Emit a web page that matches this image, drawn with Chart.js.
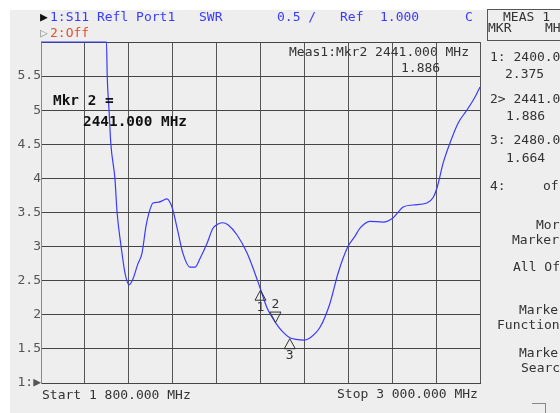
<!DOCTYPE html>
<html>
<head>
<meta charset="utf-8">
<script src="https://cdn.jsdelivr.net/npm/chart.js@4/dist/chart.umd.min.js"></script>
<style>
  html, body { margin:0; padding:0; background:#ffffff; }
  #wrap { position:relative; width:560px; height:413px; overflow:hidden; background:#ffffff; }
  #bg { position:absolute; left:10px; top:10px; width:550px; height:403px; background:#eeeeee; }
  canvas { position:absolute; left:0; top:0; }
  .t { position:absolute; font-family:"DejaVu Sans Mono", monospace; font-size:13px; line-height:14px; white-space:pre; color:#333; }
  .blue { color:#3a3aff; }
  .b { font-weight:bold; font-size:14.4px; color:#111; line-height:15px; }
  #measbox { position:absolute; left:487px; top:9px; width:80px; height:30px; border:1px solid #555; }
  #widget { position:absolute; left:532px; top:403px; width:13px; height:14px; border-top:1px solid #888; border-right:1px solid #888; }
</style>
</head>
<body>
<div id="wrap">
  <div id="bg"></div>
  <canvas id="c" width="560" height="413"></canvas>

  <!-- header -->
  <div class="t" style="left:40px;top:10px;color:#111;">▶</div>
  <div class="t blue" style="left:50px;top:10px;">1:S11 Refl Port1</div>
  <div class="t blue" style="left:199px;top:10px;">SWR</div>
  <div class="t blue" style="left:277px;top:10px;">0.5 /</div>
  <div class="t blue" style="left:340px;top:10px;">Ref</div>
  <div class="t blue" style="left:380px;top:10px;">1.000</div>
  <div class="t blue" style="left:465px;top:10px;">C</div>
  <div class="t" style="left:40px;top:26px;color:#999;">▷</div>
  <div class="t" style="left:50px;top:26px;color:#e0502c;">2:Off</div>

  <div id="measbox"></div>
  <div class="t" style="left:503px;top:10px;">MEAS 1</div>
  <div class="t" style="left:488px;top:21px;">MKR</div>
  <div class="t" style="left:545px;top:21px;">MH</div>

  <!-- in-plot annotations -->
  <div class="t b" style="left:53px;top:93px;">Mkr 2 =</div>
  <div class="t b" style="left:83px;top:114px;">2441.000 MHz</div>
  <div class="t" style="left:289px;top:45px;">Meas1:Mkr2 2441.000 MHz</div>
  <div class="t" style="left:401px;top:61px;">1.886</div>

  <!-- right panel -->
  <div class="t" style="left:490px;top:50px;">1: 2400.0</div>
  <div class="t" style="left:505px;top:67px;">2.375</div>
  <div class="t" style="left:490px;top:92px;">2&gt; 2441.0</div>
  <div class="t" style="left:506px;top:109px;">1.886</div>
  <div class="t" style="left:490px;top:133px;">3: 2480.0</div>
  <div class="t" style="left:506px;top:151px;">1.664</div>
  <div class="t" style="left:490px;top:179px;">4:</div>
  <div class="t" style="left:543px;top:179px;">of</div>
  <div class="t" style="left:536px;top:218px;">Mor</div>
  <div class="t" style="left:512px;top:233px;">Marker</div>
  <div class="t" style="left:513px;top:260px;">All Of</div>
  <div class="t" style="left:519px;top:303px;">Marke</div>
  <div class="t" style="left:497px;top:318px;">Function</div>
  <div class="t" style="left:519px;top:346px;">Marke</div>
  <div class="t" style="left:521px;top:361px;">Searc</div>

  <!-- bottom -->
  <div class="t" style="left:42px;top:388px;">Start 1 800.000 MHz</div>
  <div class="t" style="left:337px;top:387px;">Stop 3 000.000 MHz</div>
  <div id="widget"></div>
</div>

<script>
// ---- data ----
const freqMHz = [1800, 1975, 1979, 1981, 1986, 1991, 2002, 2008, 2019, 2030,
                 2041, 2051, 2065, 2076, 2087, 2095, 2106, 2120, 2131, 2144,
                 2158, 2175, 2188, 2207, 2221, 2235, 2254, 2270, 2284, 2297,
                 2311, 2336, 2363, 2382, 2400, 2418, 2441, 2459, 2480, 2497,
                 2519, 2535, 2563, 2590, 2612, 2639, 2658, 2672, 2699, 2735,
                 2762, 2790, 2817, 2855, 2872, 2883, 2899, 2918, 2940, 2964,
                 2986, 3000];
const swr = [6, 6, 6, 5.5, 5.0, 4.5, 4.0, 3.5, 3.0, 2.6,
             2.44, 2.52, 2.75, 2.9, 3.3, 3.49, 3.64, 3.65, 3.67, 3.70,
             3.58, 3.2, 2.9, 2.70, 2.70, 2.83, 3.05, 3.27, 3.33, 3.35,
             3.32, 3.17, 2.91, 2.65, 2.375, 2.1, 1.886, 1.76, 1.664, 1.64,
             1.63, 1.66, 1.82, 2.17, 2.61, 3.0, 3.15, 3.27, 3.37, 3.36,
             3.42, 3.58, 3.61, 3.64, 3.72, 3.87, 4.22, 4.52, 4.81, 5.0,
             5.19, 5.34];
const markerIds = ['1', '2', '3'];
const markerFreqs = [2400, 2441, 2480];
const markerSwr = [2.375, 1.886, 1.664];
const activeMarker = 1;
const yTickLabels = {1: '1:▶', 1.5: '1.5', 2: '2', 2.5: '2.5', 3: '3', 3.5: '3.5', 4: '4', 4.5: '4.5', 5: '5', 5.5: '5.5', 6: ''};

const points = freqMHz.map((f, i) => ({x: f, y: swr[i]}));

const markerPlugin = {
  id: 'markers',
  afterDatasetsDraw(chart) {
    const ctx = chart.ctx, xs = chart.scales.x, ys = chart.scales.y;
    ctx.save();
    ctx.strokeStyle = '#333';
    ctx.fillStyle = '#333';
    ctx.lineWidth = 1;
    ctx.font = '13px "DejaVu Sans Mono"';
    ctx.textAlign = 'center';
    ctx.textBaseline = 'middle';
    markerFreqs.forEach((f, i) => {
      const px = xs.getPixelForValue(f), py = ys.getPixelForValue(markerSwr[i]);
      ctx.beginPath();
      if (i === activeMarker) {
        ctx.moveTo(px, py);
        ctx.lineTo(px - 5.5, py - 10.5);
        ctx.lineTo(px + 5.5, py - 10.5);
        ctx.closePath();
        ctx.stroke();
        ctx.fillText(markerIds[i], px, py - 18);
      } else {
        ctx.moveTo(px, py + 1);
        ctx.lineTo(px - 5.5, py + 11);
        ctx.lineTo(px + 5.5, py + 11);
        ctx.closePath();
        ctx.stroke();
        ctx.fillText(markerIds[i], px, py + 18);
      }
    });
    ctx.restore();
  }
};

new Chart(document.getElementById('c'), {
  type: 'line',
  data: {
    datasets: [{
      data: points,
      borderColor: '#3a3aff',
      borderWidth: 1.2,
      pointRadius: 0,
      cubicInterpolationMode: 'monotone',
      clip: 3
    }]
  },
  options: {
    responsive: false,
    animation: false,
    devicePixelRatio: 1,
    layout: { padding: { left: 0, right: 80, top: 42, bottom: 0 } },
    plugins: { legend: { display: false }, tooltip: { enabled: false } },
    scales: {
      x: {
        type: 'linear', min: 1800, max: 3000,
        afterBuildTicks(s) { s.ticks = []; for (let k = 0; k <= 10; k++) s.ticks.push({value: 1800 + k * 120}); },
        ticks: { display: false },
        grid: { color: '#555', lineWidth: 1, drawTicks: false },
        border: { color: '#444', width: 1 },
        afterFit(s) { s.height = 30; }
      },
      y: {
        min: 1, max: 6,
        afterBuildTicks(s) { s.ticks = []; for (let k = 0; k <= 10; k++) s.ticks.push({value: 1 + k * 0.5}); },
        ticks: {
          padding: 0,
          color: '#555',
          font: { family: 'DejaVu Sans Mono', size: 13 },
          callback: (v) => yTickLabels[v] !== undefined ? yTickLabels[v] : ''
        },
        grid: { color: '#444', lineWidth: 1, drawTicks: false },
        border: { color: '#888', width: 1 },
        afterFit(s) { s.width = 41; }
      }
    }
  },
  plugins: [markerPlugin]
});
</script>
</body>
</html>
